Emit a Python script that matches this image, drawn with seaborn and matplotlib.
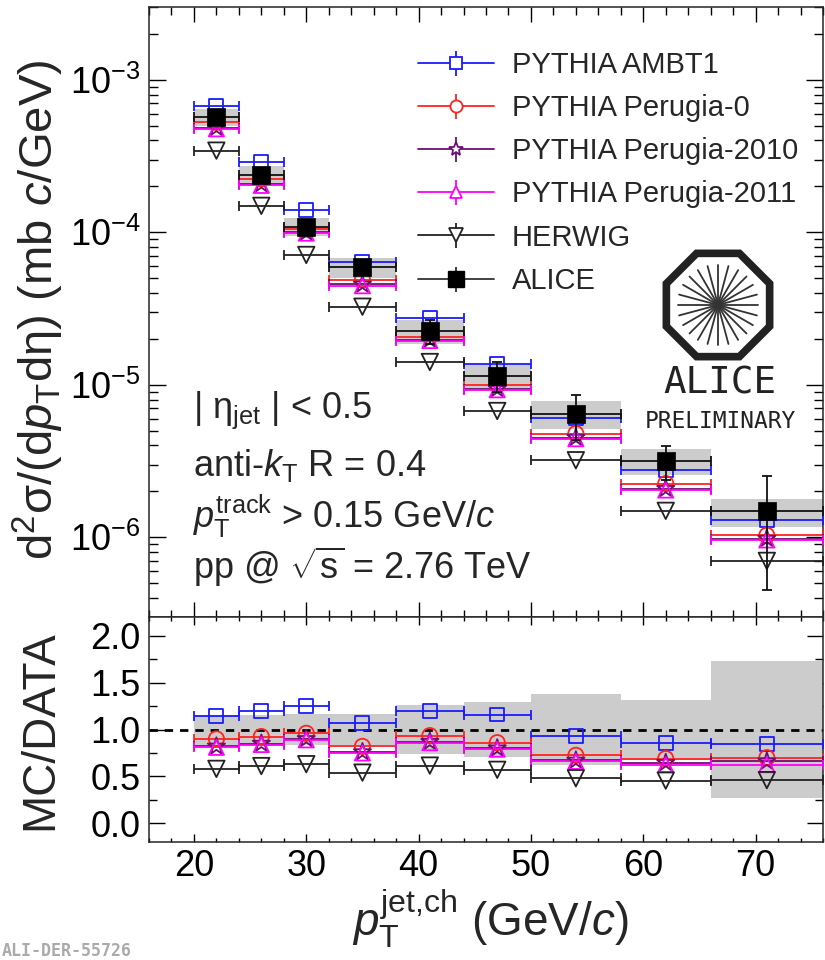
import numpy as np
import pandas as pd
import matplotlib
matplotlib.use("Agg")
import matplotlib.pyplot as plt
import seaborn as sns
from matplotlib.lines import Line2D
from matplotlib.legend_handler import HandlerTuple
from matplotlib.patches import RegularPolygon
from matplotlib.ticker import MultipleLocator, LogLocator, NullFormatter

# ---------------- data ----------------
bin_edges = [20, 24, 28, 32, 38, 44, 50, 58, 66, 76]
pt_center = [22, 26, 30, 35, 41, 47, 54, 62, 71]
pt_halfwidth = [2, 2, 2, 3, 3, 3, 4, 4, 5]

alice = [5.73e-4, 2.39e-4, 1.09e-4, 5.9e-5, 2.25e-5, 1.15e-5, 6.46e-6, 3.18e-6, 1.48e-6]
alice_stat = [8e-6, 4e-6, 2.5e-6, 1.5e-6, 4.1e-6, 2.6e-6, 2.1e-6, 0.8e-6, 1.03e-6]
alice_sys_rel = [0.13, 0.145, 0.13, 0.155, 0.18, 0.17, 0.21, 0.19, 0.21]
ratio_sys = [0.16, 0.16, 0.17, 0.17, 0.26, 0.29, 0.38, 0.32, 0.73]

ambt1 = [6.7e-4, 2.9e-4, 1.40e-4, 6.4e-5, 2.73e-5, 1.36e-5, 6.05e-6, 2.75e-6, 1.29e-6]
perugia0 = [5.26e-4, 2.24e-4, 1.05e-4, 4.88e-5, 2.07e-5, 1.0e-5, 4.79e-6, 2.25e-6, 1.03e-6]
perugia2010 = [4.85e-4, 2.07e-4, 1.0e-4, 4.55e-5, 1.98e-5, 9.4e-6, 4.5e-6, 2.08e-6, 9.8e-7]
perugia2011 = [4.77e-4, 2.03e-4, 9.87e-5, 4.46e-5, 1.95e-5, 9.27e-6, 4.43e-6, 2.04e-6, 9.6e-7]
herwig = [3.43e-4, 1.49e-4, 7.1e-5, 3.25e-5, 1.41e-5, 6.73e-6, 3.2e-6, 1.49e-6, 7.0e-7]

r_ambt1 = [1.14, 1.20, 1.25, 1.07, 1.20, 1.16, 0.93, 0.86, 0.85]
r_perugia0 = [0.90, 0.925, 0.96, 0.82, 0.935, 0.86, 0.725, 0.69, 0.70]
r_perugia2010 = [0.82, 0.85, 0.90, 0.76, 0.87, 0.80, 0.67, 0.645, 0.66]
r_perugia2011 = [0.81, 0.84, 0.89, 0.75, 0.86, 0.79, 0.66, 0.625, 0.625]
r_herwig = [0.58, 0.61, 0.63, 0.54, 0.615, 0.57, 0.48, 0.455, 0.46]

labels = ["PYTHIA AMBT1", "PYTHIA Perugia-0", "PYTHIA Perugia-2010",
          "PYTHIA Perugia-2011", "HERWIG", "ALICE"]

# ---------------- style ----------------
sns.set_theme(style="ticks")
plt.rcParams["font.family"] = ["Liberation Sans", "DejaVu Sans"]
plt.rcParams["mathtext.fontset"] = "custom"
plt.rcParams["mathtext.rm"] = "Liberation Sans"
plt.rcParams["mathtext.it"] = "Liberation Sans:italic"
plt.rcParams["mathtext.bf"] = "Liberation Sans:bold"
plt.rcParams["axes.linewidth"] = 1.1

W_PX, H_PX = 825, 960
fig = plt.figure(figsize=(W_PX / 100, H_PX / 100), dpi=100)
L = 149 / W_PX
R = 823 / W_PX
ax1 = fig.add_axes([L, 1 - 617 / H_PX, R - L, (617 - 7) / H_PX])
ax2 = fig.add_axes([L, 1 - 842 / H_PX, R - L, (842 - 617) / H_PX], sharex=ax1)

series = [
    (ambt1, r_ambt1, "#1a1aff", "s", 100),
    (perugia0, r_perugia0, "#ff2222", "o", 120),
    (perugia2010, r_perugia2010, "#6b1070", "*", 170),
    (perugia2011, r_perugia2011, "#ff00ff", "^", 120),
    (herwig, r_herwig, "#222222", "v", 140),
]

x = np.array(pt_center, dtype=float)
xerr = np.array(pt_halfwidth, dtype=float)
widths = np.diff(bin_edges)
a = np.array(alice)
srel = np.array(alice_sys_rel)

# upper panel: systematic boxes
ax1.bar(x, a * 2 * srel, bottom=a * (1 - srel), width=widths, color="#cccccc",
        edgecolor="none", zorder=1)

for vals, rat, col, mk, sz in series:
    ax1.errorbar(x, vals, xerr=xerr, fmt="none", ecolor=col, elinewidth=1.3,
                 capsize=3.5, capthick=1.3, zorder=3)
    df = pd.DataFrame({"pt": x, "val": vals})
    sns.scatterplot(data=df, x="pt", y="val", ax=ax1, marker=mk, s=sz,
                    color=col, facecolors="none", edgecolor=col,
                    linewidth=1.3, zorder=4, legend=False)

ax1.errorbar(x, a, xerr=xerr, yerr=alice_stat, fmt="none", ecolor="#111111",
             elinewidth=1.3, capsize=3.5, capthick=1.3, zorder=5)
sns.scatterplot(data=pd.DataFrame({"pt": x, "val": a}), x="pt", y="val", ax=ax1,
                marker="s", s=165, color="black", edgecolor="black",
                linewidth=0.5, zorder=6, legend=False)

ax1.set_yscale("log")
ax1.set_xlim(16, 76)
ax1.set_ylim(3.0e-7, 3.0e-3)
ax1.set_xlabel("")
ax1.set_ylabel("")
ax1.tick_params(axis="x", labelbottom=False)

# lower panel
ax2.bar(x, 2 * np.array(ratio_sys), bottom=1 - np.array(ratio_sys), width=widths,
        color="#cccccc", edgecolor="none", zorder=1)
ax2.axhline(1.0, color="black", ls=(0, (3, 2.5)), lw=2.0, zorder=2)
for vals, rat, col, mk, sz in series:
    ax2.errorbar(x, rat, xerr=xerr, fmt="none", ecolor=col, elinewidth=1.3,
                 capsize=3.5, capthick=1.3, zorder=3)
    sns.scatterplot(data=pd.DataFrame({"pt": x, "r": rat}), x="pt", y="r", ax=ax2,
                    marker=mk, s=sz, color=col, facecolors="none", edgecolor=col,
                    linewidth=1.3, zorder=4, legend=False)
ax2.set_ylim(-0.2, 2.2)
ax2.set_xlabel("")
ax2.set_ylabel("")

# ticks
px = 0.72
ax1.yaxis.set_major_locator(LogLocator(base=10, numticks=12))
ax1.yaxis.set_minor_locator(LogLocator(base=10, subs=np.arange(2, 10), numticks=12))
ax1.yaxis.set_minor_formatter(NullFormatter())
ax1.xaxis.set_major_locator(MultipleLocator(10))
ax1.xaxis.set_minor_locator(MultipleLocator(2))
ax2.yaxis.set_major_locator(MultipleLocator(0.5))
ax2.yaxis.set_minor_locator(MultipleLocator(0.25))
ax2.yaxis.set_major_formatter(matplotlib.ticker.FormatStrFormatter("%.1f"))

for ax in (ax1, ax2):
    ax.tick_params(which="both", direction="in", top=True, right=True,
                   width=1.0, colors="black", labelsize=26)
ax1.tick_params(axis="y", which="major", length=17 * px, pad=6)
ax1.tick_params(axis="y", which="minor", length=9 * px)
ax1.tick_params(axis="x", which="major", length=15 * px)
ax1.tick_params(axis="x", which="minor", length=7.5 * px)
ax2.tick_params(axis="y", which="major", length=16 * px, pad=6)
ax2.tick_params(axis="y", which="minor", length=8 * px)
ax2.tick_params(axis="x", which="major", length=8 * px, pad=5)
ax2.tick_params(axis="x", which="minor", length=4 * px)

# axis titles
fig.text(38 / W_PX, 1 - 310 / H_PX,
         r"d$^{2}$σ/(d$p_{\rm T}$dη) (mb $c$/GeV)",
         rotation=90, ha="center", va="center", fontsize=34)
fig.text(40 / W_PX, 1 - 730 / H_PX, "MC/DATA", rotation=90,
         ha="center", va="center", fontsize=33)
fig.text(490 / W_PX, 1 - 919 / H_PX, r"$p_{\rm T}^{\rm jet{,}ch}$ (GeV/$c$)",
         ha="center", va="center", fontsize=33)

# annotations
ann_x = 193 / W_PX
for yy, txt in [(410, r"| η$_{\rm jet}$ | < 0.5"),
                (465, r"anti-$k_{\rm T}$ R = 0.4"),
                (516, r"$p_{\rm T}^{\rm track}$ > 0.15 GeV/$c$"),
                (567, r"pp @ $\sqrt{\rm s}$ = 2.76 TeV")]:
    fig.text(ann_x, 1 - yy / H_PX, txt, ha="left", va="center", fontsize=26)

# legend
handles = []
for vals, rat, col, mk, sz in series:
    handles.append((Line2D([], [], color=col, lw=1.3),
                    Line2D([], [], color=col, marker="|", ms=18, mew=1.3, ls="none"),
                    Line2D([], [], color=col, marker=mk, ms=np.sqrt(sz) * 0.8,
                           mfc="white", mec=col, mew=1.3, ls="none")))
handles.append((Line2D([], [], color="#333333", lw=1.3),
                Line2D([], [], color="#333333", marker="|", ms=18, mew=1.3, ls="none"),
                Line2D([], [], color="black", marker="s", ms=11, mfc="black",
                       mec="black", ls="none")))
ax1.legend(handles, labels, loc="upper left",
           bbox_to_anchor=(418 / W_PX, 1 - 51 / H_PX), bbox_transform=fig.transFigure,
           frameon=False, fontsize=21, handlelength=2.6, handletextpad=0.62,
           labelspacing=0.52, borderpad=0, borderaxespad=0,
           handler_map={tuple: HandlerTuple(ndivide=1)})

# ALICE logo
lax = fig.add_axes([(718 - 65) / W_PX, 1 - (305 + 65) / H_PX, 130 / W_PX, 130 / H_PX])
lax.set_xlim(-1, 1)
lax.set_ylim(-1, 1)
lax.axis("off")
lax.add_patch(RegularPolygon((0, 0), numVertices=8, radius=0.86, orientation=np.pi / 8,
                             facecolor="none", edgecolor="#222222", lw=5.5))
for ang in np.linspace(0, np.pi, 12, endpoint=False):
    dx, dy = np.cos(ang), np.sin(ang)
    lax.plot([-0.62 * dx, 0.62 * dx], [-0.62 * dy, 0.62 * dy], color="#333333", lw=1.3)
fig.text(720 / W_PX, 1 - 383 / H_PX, "ALICE", ha="center", va="center",
         fontsize=27, family="DejaVu Sans Mono", color="#222222")
fig.text(720 / W_PX, 1 - 421 / H_PX, "PRELIMINARY", ha="center", va="center",
         fontsize=16.5, family="DejaVu Sans Mono", color="#222222")

fig.text(2 / W_PX, 1 - 951 / H_PX, "ALI-DER-55726", ha="left", va="center",
         fontsize=12, family="DejaVu Sans Mono", weight="bold", color="#aaaaaa")

fig.savefig("out.png", dpi=100)
